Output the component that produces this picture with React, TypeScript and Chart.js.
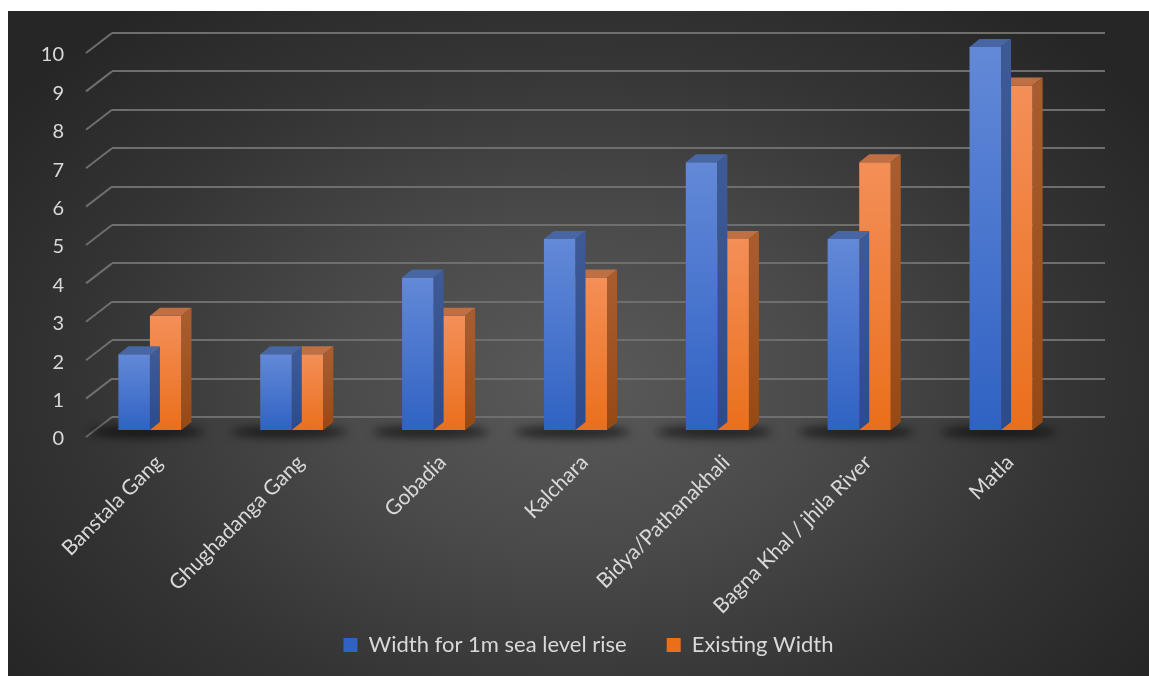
import React, { useEffect, useRef } from "react";
import { Chart, registerables } from "chart.js";

Chart.register(...registerables);

const categories = [
  "Banstala Gang",
  "Ghughadanga Gang",
  "Gobadia",
  "Kalchara",
  "Bidya/Pathanakhali",
  "Bagna Khal / jhila River",
  "Matla",
];
const widthFor1mRise = [2, 2, 4, 5, 7, 5, 10];
const existingWidth = [3, 2, 3, 4, 5, 7, 9];
const seriesNames = ["Width for 1m sea level rise", "Existing Width"];
const yMin = 0;
const yMax = 10;

const FONT = "Lato";
const TEXT = "#d9d9d9";
const FRONT_DX = -33;
const FRONT_DY = 14;
const DEPTH_X = 10;
const DEPTH_Y = -8;
const LEGEND_FONT = 22;
const LEGEND_TEXT_Y = 634;
const LEGEND_SHIFT_X = 32;

const palette = [
  { front: ["#6389d8", "#2f62c3"], top: "#4766a3", side: ["#3e5a96", "#2c4b8c"], legend: "#4a76cc" },
  { front: ["#f48f58", "#ea6f1b"], top: "#c06f42", side: ["#a95d2f", "#974914"], legend: "#f07d33" },
];

function frontFill(dsIndex: number) {
  return (ctx: any) => {
    const p = palette[dsIndex];
    const chart = ctx.chart;
    const ys = chart.scales && chart.scales.y;
    if (ctx.type !== "data" || !ys || ctx.raw == null) return p.legend;
    const top = ys.getPixelForValue(ctx.raw);
    const bot = ys.getPixelForValue(0);
    if (!isFinite(top) || !isFinite(bot) || top === bot) return p.legend;
    const g = chart.ctx.createLinearGradient(0, top, 0, bot);
    g.addColorStop(0, p.front[0]);
    g.addColorStop(1, p.front[1]);
    return g;
  };
}

const legendPlacer = {
  id: "legendPlacer",
  afterLayout(chart: any) {
    const lg = chart.legend;
    if (!lg) return;
    const itemH = Math.max(14, LEGEND_FONT);
    const fullH = itemH + 40 + 10;
    const newTop = LEGEND_TEXT_Y - 40 - itemH / 2;
    lg.top = newTop;
    lg.height = fullH;
    lg.bottom = newTop + fullH;
    lg.left += LEGEND_SHIFT_X;
    lg.right += LEGEND_SHIFT_X;
  },
};

const bars3d = {
  id: "bars3d",
  beforeDatasetsDraw(chart: any) {
    const { ctx, chartArea } = chart;
    const ys = chart.scales.y;
    const xs = chart.scales.x;
    ctx.save();
    ctx.strokeStyle = "#6e6e6e";
    ctx.lineWidth = 2;
    ys.ticks.forEach((t: any) => {
      const y = ys.getPixelForValue(t.value);
      ctx.beginPath();
      ctx.moveTo(chartArea.left - 26, y + 20);
      ctx.lineTo(chartArea.left, y);
      ctx.stroke();
    });
    ctx.restore();
    ctx.save();
    ctx.translate(FRONT_DX, FRONT_DY);
    ctx.filter = "blur(5px)";
    ctx.fillStyle = "rgba(0,0,0,0.6)";
    const base = ys.getPixelForValue(0);
    categories.forEach((_, i) => {
      const cx = xs.getPixelForValue(i);
      ctx.beginPath();
      ctx.ellipse(cx - 3, base + 1, 58, 6, 0, 0, Math.PI * 2);
      ctx.fill();
    });
    ctx.restore();
    ctx.save();
    ctx.translate(FRONT_DX, FRONT_DY);
  },
  afterDatasetDraw(chart: any, args: any) {
    const { ctx } = chart;
    const p = palette[args.index];
    args.meta.data.forEach((el: any) => {
      const { x, y, base, width } = el.getProps(["x", "y", "base", "width"], true);
      const l = x - width / 2;
      const r = x + width / 2;
      ctx.beginPath();
      ctx.moveTo(l, y);
      ctx.lineTo(r, y);
      ctx.lineTo(r + DEPTH_X, y + DEPTH_Y);
      ctx.lineTo(l + DEPTH_X, y + DEPTH_Y);
      ctx.closePath();
      ctx.fillStyle = p.top;
      ctx.fill();
      const g = ctx.createLinearGradient(0, y, 0, base);
      g.addColorStop(0, p.side[0]);
      g.addColorStop(1, p.side[1]);
      ctx.beginPath();
      ctx.moveTo(r, y);
      ctx.lineTo(r + DEPTH_X, y + DEPTH_Y);
      ctx.lineTo(r + DEPTH_X, base + DEPTH_Y);
      ctx.lineTo(r, base);
      ctx.closePath();
      ctx.fillStyle = g;
      ctx.fill();
    });
  },
  afterDatasetsDraw(chart: any) {
    chart.ctx.restore();
  },
};

export default function App() {
  const ref = useRef<HTMLCanvasElement | null>(null);

  useEffect(() => {
    if (!ref.current) return;
    const chart = new Chart(ref.current, {
      type: "bar",
      data: {
        labels: categories,
        datasets: [
          {
            label: seriesNames[0],
            data: widthFor1mRise,
            backgroundColor: frontFill(0) as any,
            borderWidth: 0,
            clip: false as any,
          },
          {
            label: seriesNames[1],
            data: existingWidth,
            backgroundColor: frontFill(1) as any,
            borderWidth: 0,
            clip: false as any,
          },
        ],
      },
      options: {
        animation: false,
        responsive: false,
        maintainAspectRatio: false,
        layout: { padding: { left: 0, right: 44, top: 22, bottom: 0 } },
        datasets: { bar: { categoryPercentage: 0.445, barPercentage: 1 } },
        plugins: {
          tooltip: { enabled: false },
          legend: {
            position: "bottom",
            maxHeight: 50,
            labels: {
              color: TEXT,
              font: { family: FONT, size: LEGEND_FONT },
              boxWidth: 14,
              boxHeight: 14,
              padding: 40,
            },
          },
        },
        scales: {
          x: {
            grid: { display: false },
            border: { display: false },
            ticks: {
              color: TEXT,
              font: { family: FONT, size: 21 },
              minRotation: 45,
              maxRotation: 45,
              autoSkip: false,
              padding: 25,
              labelOffset: -24,
            },
            afterFit: (s: any) => {
              s.height = 209;
            },
          },
          y: {
            min: yMin,
            max: yMax,
            grid: { color: "#6e6e6e", lineWidth: 2, drawTicks: false },
            border: { display: false },
            ticks: {
              stepSize: 1,
              color: TEXT,
              font: { family: FONT, size: 20 },
              padding: 48,
              labelOffset: 22,
            },
            afterFit: (s: any) => {
              s.width = 104;
              s.paddingTop = 0;
              s.paddingBottom = 0;
            },
          },
        },
      },
      plugins: [bars3d, legendPlacer],
    });
    return () => chart.destroy();
  }, []);

  return (
    <div
      style={{
        position: "absolute",
        left: 8,
        top: 11,
        width: 1141,
        height: 665,
        background:
          "radial-gradient(ellipse 62% 72% at 50% 56%, #5a5a5a 0%, #4a4a4a 35%, #343434 70%, #262626 100%)",
      }}
    >
      <canvas ref={ref} width={1141} height={665} style={{ display: "block" }} />
    </div>
  );
}
